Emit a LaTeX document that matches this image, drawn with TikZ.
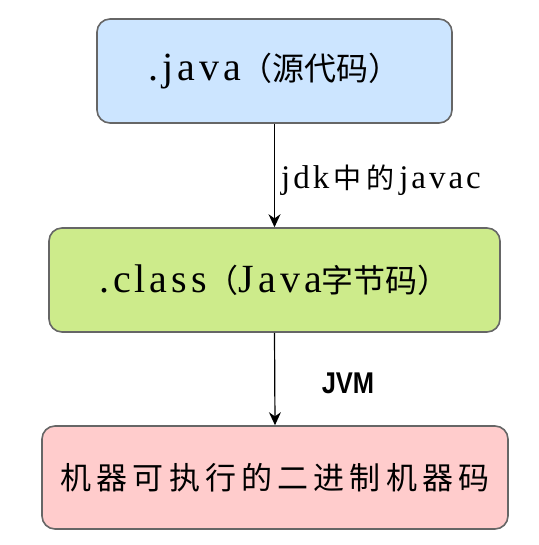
\documentclass[tikz,border=0pt]{standalone}
\usepackage{fontspec}
\setmainfont{Liberation Serif}
\newfontfamily\cjk{Noto Sans CJK SC}
\newfontfamily\latinsp[LetterSpace=10]{Liberation Serif}
\newfontfamily\latinlb[LetterSpace=9]{Liberation Serif}
\newfontfamily\jvmfont{Liberation Sans}
\newcommand{\boxlat}[1]{{\latinsp\fontsize{40bp}{44bp}\selectfont #1}}
\newcommand{\lbllat}[1]{{\latinlb\fontsize{33bp}{38bp}\selectfont #1}}
\usetikzlibrary{arrows.meta}
\definecolor{bluefill}{HTML}{CCE5FF}
\definecolor{greenfill}{HTML}{CDEB8B}
\definecolor{redfill}{HTML}{FFCCCC}
\definecolor{edgegray}{HTML}{666666}
\tikzset{
  box/.style={draw=edgegray, line width=1.6bp, rounded corners=13bp, inner sep=0pt,
    font=\cjk\fontsize{32bp}{36bp}\selectfont},
  flow/.style={-{Stealth[length=13bp,width=12bp]}, line width=1.2bp, black},
  lbl/.style={inner sep=0pt, font=\cjk\fontsize{28bp}{36bp}\selectfont}
}
\begin{document}
\begin{tikzpicture}[x=1bp,y=-1bp]
\useasboundingbox (0,0) rectangle (539,545);
\node[box, fill=bluefill, minimum width=355bp, minimum height=104bp] (src) at (274.5,71)
  {\boxlat{.java}（源代码）};
\node[box, fill=greenfill, minimum width=451bp, minimum height=104bp] (cls) at (274.5,280)
  {\boxlat{.class}（\boxlat{Java}字节码）};
\node[box, fill=redfill, minimum width=466bp, minimum height=103bp] (bin) at (275,477.5)
  {\fontsize{31bp}{36bp}\selectfont 机\,器\,可\,执\,行\,的\,二\,进\,制\,机\,器\,码};
\draw[flow] (src.south) -- (cls.north);
\draw[flow] (cls.south) -- (bin.north);
\node[lbl, anchor=west] (l1) at (281,180) {\lbllat{jdk}\,中\,的\,\lbllat{javac}};
\node[lbl] (l2) at (348,383) {\jvmfont\bfseries\fontsize{30bp}{36bp}\selectfont\scalebox{0.85}[1]{JVM}};
\end{tikzpicture}
\end{document}
